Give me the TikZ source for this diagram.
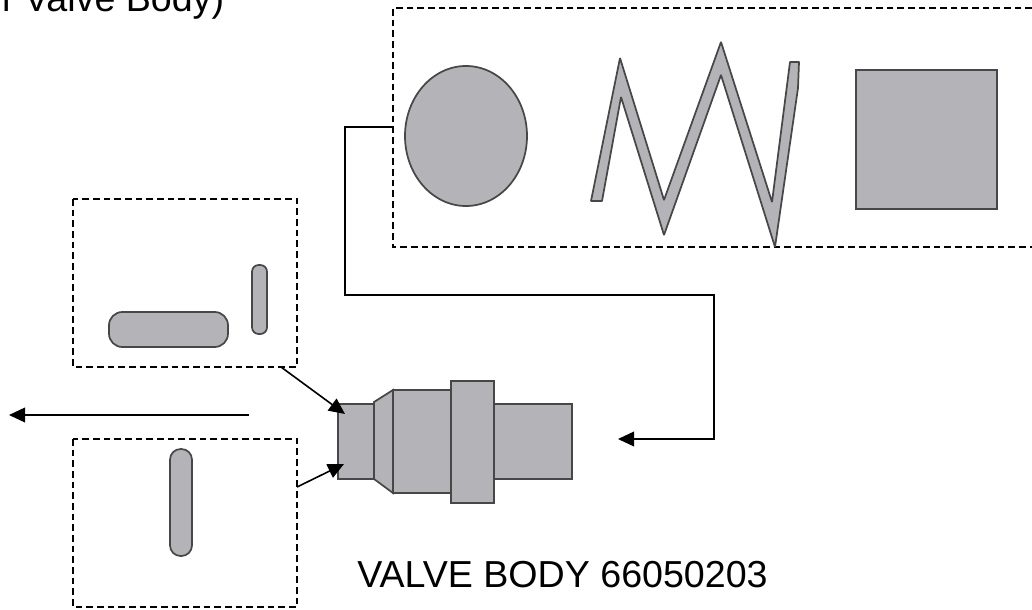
\documentclass[tikz,border=0pt]{standalone}
\usepackage{fontspec}
\setmainfont{Liberation Sans}
\usetikzlibrary{arrows.meta}
\tikzset{
  part/.style={draw=black!72,line width=1.3pt,fill=partgray},
  zone/.style={draw=black,line width=1.1pt,dash pattern=on 5pt off 3pt},
  wire/.style={draw=black,line width=1.2pt},
  lead/.style={wire,-{Triangle[length=12pt,width=11pt]}},
  caption/.style={font=\fontsize{28.2}{30}\selectfont,inner sep=0pt,anchor=base west}
}
\definecolor{partgray}{RGB}{180,180,184}
\begin{document}
\begin{tikzpicture}[x=0.75pt,y=-0.75pt]
\useasboundingbox (0,0) rectangle (1032,610);
\node[caption] (topnote) at (1,12) {f\kern1.5pt{} Valve Body)};
\node[caption] (title) at (357,587) {VALVE BODY 66050203};
% dashed zones
\draw[zone] (1032,8) -- (393,8) -- (393,247) -- (1032,247);
\draw[zone] (73,199) rectangle (297,367);
\draw[zone] (73,439) rectangle (297,607);
% parts in the top zone
\draw[part] (466,136) ellipse[x radius=61,y radius=70];
\draw[part,line join=bevel] (591,201) -- (620,58) -- (664,200) -- (721,42) -- (772,202) -- (790,62) -- (799,62) -- (798,88) -- (775,247) -- (721,75) -- (664,235) -- (621,97) -- (602,201) -- cycle;
\draw[part] (856,70) rectangle (997,209);
% small parts
\draw[part,rounded corners=10pt] (109,312) rectangle (228,347);
\draw[part,rounded corners=5pt] (252,265) rectangle (267,334);
\draw[part,rounded corners=8pt] (170,449) rectangle (192,556);
% valve body
\foreach \xa/\xb/\ya/\yb in {338/374/404/479, 393/451/390/493, 494/572/404/479, 451/494/381/503} { \draw[part] (\xa,\ya) rectangle (\xb,\yb); };
\draw[part] (374,402) -- (393,390) -- (393,493) -- (374,479) -- cycle;
% connectors
\coordinate (zonetop) at (393,127);
\coordinate (bodyend) at (618,439);
\coordinate (zoneup) at (281,367);
\coordinate (bodyup) at (345,414);
\coordinate (zonedown) at (297,487);
\coordinate (bodydown) at (344,464);
\coordinate (outfrom) at (249,415);
\coordinate (outto) at (9,415);
\draw[lead] (zonetop) -- (345,127) -- (345,295) -- (714,295) -- (714,439) -- (bodyend);
\draw[lead] (zoneup) -- (bodyup);
\draw[lead] (zonedown) -- (bodydown);
\draw[lead] (outfrom) -- (outto);
\end{tikzpicture}
\end{document}
